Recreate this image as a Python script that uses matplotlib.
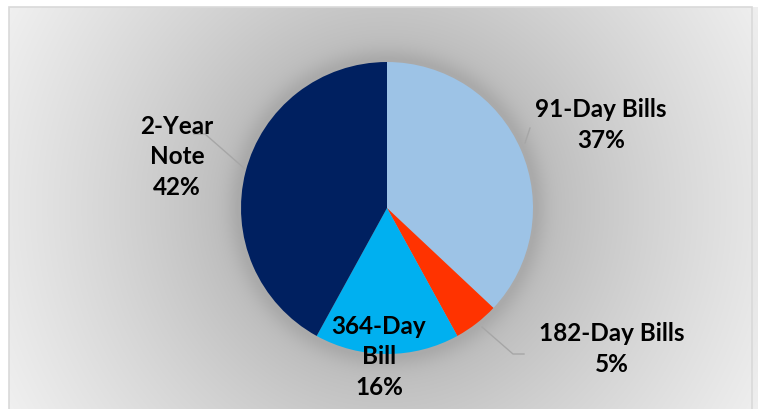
import numpy as np
import matplotlib
matplotlib.use("Agg")
import matplotlib.pyplot as plt
from matplotlib.patches import Rectangle

# data
categories = ["91-Day Bills", "182-Day Bills", "364-Day Bill", "2-Year Note"]
shares = [37, 5, 16, 42]
colors = ["#9DC3E6", "#FF3300", "#00B0F0", "#002060"]
label_texts = ["91-Day Bills\n37%", "182-Day Bills\n5%", "364-Day\nBill\n16%", "2-Year\nNote\n42%"]

W, H = 758, 409
cx, cy, r = 387, H - 208, 146

fig = plt.figure(figsize=(W / 100, H / 100), dpi=100)
ax = fig.add_axes([0, 0, 1, 1])

# radial grey background inside the chart box
xs = np.arange(W) + 0.5
ys = np.arange(H) + 0.5
X, Y = np.meshgrid(xs, ys)
d = np.sqrt((X - cx) ** 2 + (Y - cy) ** 2)
t = np.clip((d - 150) / 280, 0, 1)
v = 184 + 56 * t ** 0.8
v -= 14 * np.exp(-((np.maximum(d, 146) - 146) / 14) ** 2)
v = np.clip(v, 0, 255) / 255.0
img = np.dstack([v, v, v])
box_l, box_t = 9, 7
mask = (X < box_l) | (Y > H - box_t)
img[mask] = 1.0
ax.imshow(img, extent=[0, W, 0, H], origin="lower", zorder=0, interpolation="bilinear")
ax.add_patch(Rectangle((box_l, -5), W - 6 - box_l, H - box_t + 5, fill=False,
                       edgecolor="#d9d9d9", linewidth=1.2, zorder=1))

ax.pie(shares, colors=colors, startangle=90, counterclock=False,
       center=(cx, cy), radius=r, wedgeprops=dict(linewidth=0))

ax.set_xlim(0, W)
ax.set_ylim(0, H)
ax.set_aspect("equal")
ax.axis("off")

# leader lines (pixel coords from top)
lc = "#a6a6a6"
ax.plot([194, 205, 245], [H - 134, H - 134, H - 169], color=lc, lw=1, zorder=3)
ax.plot([482, 513, 524], [H - 327, H - 354, H - 354], color=lc, lw=1, zorder=3)
ax.plot([530, 525], [H - 128, H - 143], color=lc, lw=1, zorder=3)

font = ["Lato", "DejaVu Sans"]
label_pos = [(601, 125), (612, 349), (379, 357), (177, 157)]
for txt, (lx, ly) in zip(label_texts, label_pos):
    ax.text(lx, H - ly, txt, ha="center", va="center", fontsize=17.5,
            fontweight="bold", family=font, linespacing=1.38, color="#000000", zorder=4)

fig.savefig("out.png", dpi=100)
